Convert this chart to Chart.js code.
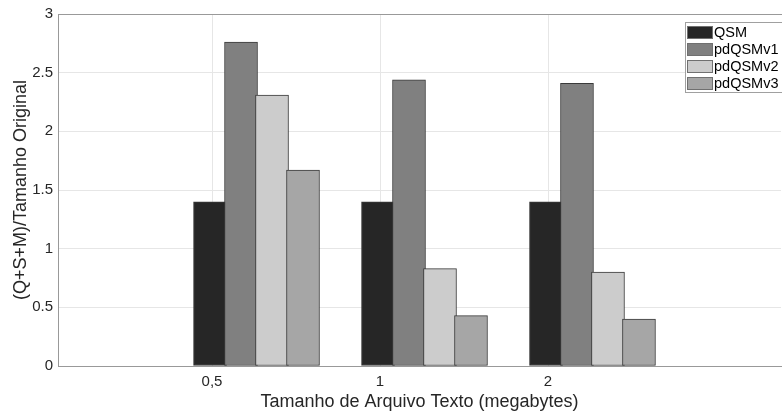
<!DOCTYPE html>
<html>
<head>
<meta charset="utf-8">
<script src="https://cdn.jsdelivr.net/npm/chart.js@4"></script>
<style>
  body { margin: 0; background: #fff; }
</style>
</head>
<body>
<canvas id="grafico" width="782" height="414"></canvas>
<script>
// tamanhos dos arquivos (rótulos do eixo x)
var tamanhos = ['0,5', '1', '2'];

// razão (Q+S+M)/tamanho original por método
var qsm      = [1.40, 1.40, 1.40];
var pdqsmv1  = [2.76, 2.44, 2.41];
var pdqsmv2  = [2.31, 0.83, 0.80];
var pdqsmv3  = [1.67, 0.43, 0.40];

var nomes = ['QSM', 'pdQSMv1', 'pdQSMv2', 'pdQSMv3'];
var series = [qsm, pdqsmv1, pdqsmv2, pdqsmv3];
var cores = ['#262626', '#808080', '#cccccc', '#a6a6a6'];

var yTicks = [0, 0.5, 1, 1.5, 2, 2.5, 3];

// limites do eixo x e deslocamento das barras dentro de cada grupo
var xMin = 0.083, xMax = 4.387;
var passoBarra = 0.1845, desvioBarra = -0.012;

var datasets = series.map(function(valores, k) {
    return {
        label: nomes[k],
        data: valores.map(function(v, i) {
            return { x: i + 1 + desvioBarra + k * passoBarra, y: v };
        }),
        backgroundColor: cores[k],
        borderColor: '#3a3a3a',
        borderWidth: 1,
        borderSkipped: false,
        grouped: false,
        barThickness: 33,
        maxBarThickness: 33,
        order: series.length - k
    };
});

// legenda com caixa, no canto superior direito
var legendaCaixa = {
    id: 'legendaCaixa',
    afterDraw: function(chart) {
        var ctx = chart.ctx;
        var area = chart.chartArea;

        // linha superior da caixa dos eixos
        ctx.save();
        ctx.strokeStyle = '#999999';
        ctx.lineWidth = 1;
        ctx.beginPath();
        ctx.moveTo(area.left, area.top + 0.5);
        ctx.lineTo(area.right + 1, area.top + 0.5);
        ctx.stroke();

        var x0 = 685.5, y0 = 22.5, larg = 100, alt = 70;
        ctx.fillStyle = '#ffffff';
        ctx.fillRect(x0, y0, larg, alt);
        ctx.strokeStyle = '#a0a0a0';
        ctx.strokeRect(x0, y0, larg, alt);

        ctx.font = '14.5px "Liberation Sans", Arial, sans-serif';
        ctx.textBaseline = 'middle';
        chart.data.datasets.forEach(function(ds, k) {
            var cy = 32.5 + k * 17;
            ctx.fillStyle = ds.backgroundColor;
            ctx.fillRect(687.5, cy - 6, 25, 12);
            ctx.strokeStyle = '#707070';
            ctx.strokeRect(687.5, cy - 6, 25, 12);
            ctx.fillStyle = '#000000';
            ctx.fillText(ds.label, 714, cy + 0.5);
        });
        ctx.restore();
    }
};

var ctx = document.getElementById('grafico');

var grafico = new Chart(ctx, {
    type: 'bar',
    data: { datasets: datasets },
    plugins: [legendaCaixa],
    options: {
        responsive: false,
        devicePixelRatio: 1,
        animation: false,
        layout: { padding: { top: 14, right: 1, left: 0, bottom: 0 } },
        plugins: {
            legend: { display: false },
            tooltip: { enabled: false }
        },
        scales: {
            x: {
                type: 'linear',
                min: xMin,
                max: xMax,
                offset: false,
                afterBuildTicks: function(scale) {
                    scale.ticks = tamanhos.map(function(t, i) { return { value: i + 1 }; });
                },
                afterFit: function(scale) { scale.height = 48; },
                ticks: {
                    callback: function(v) { return tamanhos[v - 1]; },
                    color: '#262626',
                    font: { family: '"Liberation Sans", Arial, sans-serif', size: 15 },
                    padding: 7,
                    maxRotation: 0,
                    autoSkip: false
                },
                grid: { color: '#e6e6e6', drawTicks: false, offset: false },
                border: { color: '#999999', width: 1 },
                title: {
                    display: true,
                    text: 'Tamanho de Arquivo Texto (megabytes)',
                    color: '#262626',
                    font: { family: '"Liberation Sans", Arial, sans-serif', size: 18 },
                    padding: { top: 0, bottom: 1 }
                }
            },
            y: {
                min: 0,
                max: 3,
                afterBuildTicks: function(scale) {
                    scale.ticks = yTicks.map(function(v) { return { value: v }; });
                },
                afterFit: function(scale) { scale.width = 58; },
                ticks: {
                    callback: function(v) { return String(v); },
                    color: '#262626',
                    font: { family: '"Liberation Sans", Arial, sans-serif', size: 15 },
                    padding: 5
                },
                grid: { color: '#e6e6e6', drawTicks: false },
                border: { color: '#999999', width: 1 },
                title: {
                    display: true,
                    text: '(Q+S+M)/Tamanho Original',
                    color: '#262626',
                    font: { family: '"Liberation Sans", Arial, sans-serif', size: 18 },
                    padding: { top: 10, bottom: 0 }
                }
            }
        }
    }
});
</script>
</body>
</html>
